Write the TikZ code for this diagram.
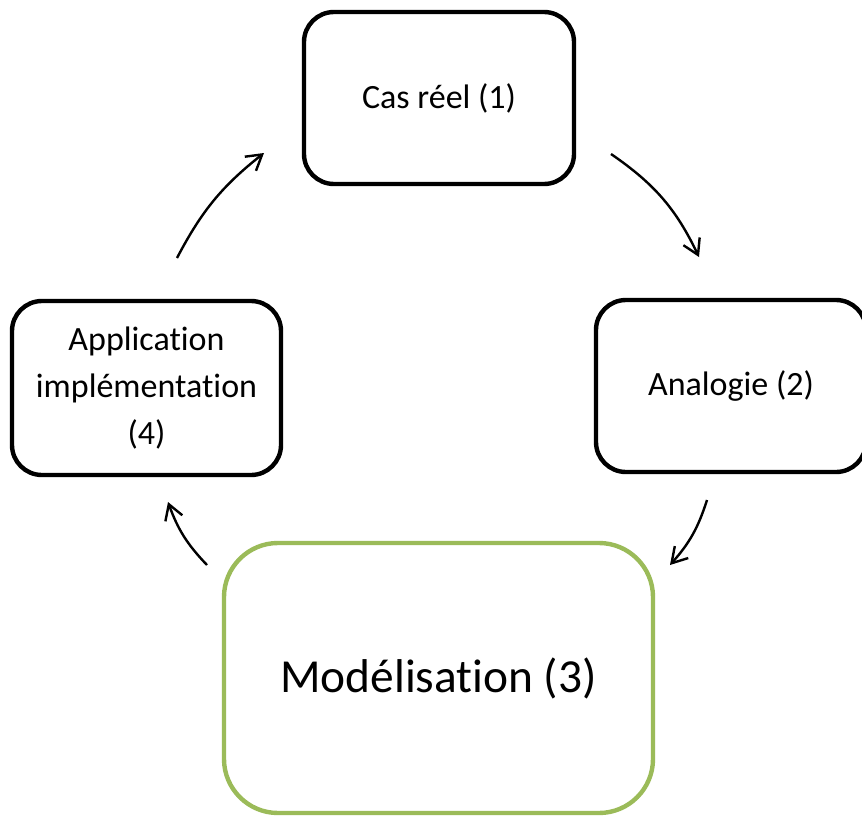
\documentclass[tikz,border=0pt]{standalone}
\usepackage{fontspec}
\setmainfont{Carlito}[Ligatures=NoCommon]
\usetikzlibrary{arrows.meta}
\definecolor{olivegreen}{HTML}{9BBB59}
\tikzset{
  stepbox/.style={draw=black,line width=2.2pt,rounded corners=15pt,
    minimum width=135pt,minimum height=86pt,align=center,
    font=\fontsize{17}{23.5}\selectfont},
  mainbox/.style={draw=olivegreen,line width=2.2pt,rounded corners=27pt,
    minimum width=214.5pt,minimum height=135pt,
    font=\fontsize{23.7}{28}\selectfont},
  flow/.style={line width=1.2pt,-{Straight Barb[length=7.5pt,width=9pt]}}
}
\begin{document}
\begin{tikzpicture}[x=0.5pt,y=-0.5pt]
\useasboundingbox (0,0) rectangle (862,819);
\node[stepbox] (cas) at (439,98) {Cas réel (1)};
\node[stepbox] (analogie) at (731,386) {Analogie (2)};
\node[mainbox] (modele) at (438.5,678) {Modélisation (3)};
\node[stepbox,minimum width=134.5pt,minimum height=87pt] (appli) at (146.5,388)
  {Application\\implémentation\\(4)};
% arrow ends
\coordinate (a1) at (611,154);
\coordinate (b1) at (699,257);
\coordinate (a2) at (707,500);
\coordinate (b2) at (670,565);
\coordinate (a3) at (207,565);
\coordinate (b3) at (168,502);
\coordinate (a4) at (177,258);
\coordinate (b4) at (264,153);
\draw[flow] (a1) to[bend left=15] (b1);
\draw[flow] (a2) to[bend left=12] (b2);
\draw[flow] (a3) to[bend left=12] (b3);
\draw[flow] (a4) to[bend left=12] (b4);
\end{tikzpicture}
\end{document}
